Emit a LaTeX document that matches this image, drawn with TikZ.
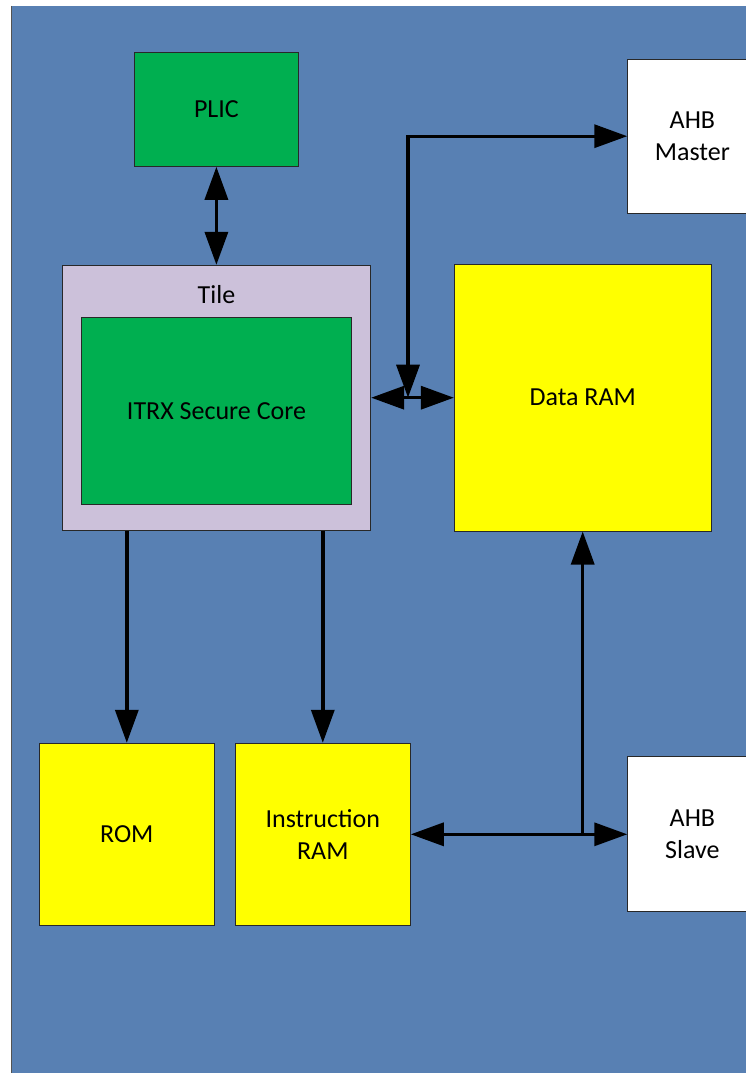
\documentclass[tikz,border=0pt]{standalone}
\usepackage{fontspec}
\setmainfont{Carlito}
\usetikzlibrary{arrows.meta}
\definecolor{bgblue}{RGB}{88,128,179}
\definecolor{tilelilac}{RGB}{204,193,218}
\definecolor{blkgreen}{RGB}{0,175,80}
\definecolor{ramyellow}{RGB}{255,255,0}
\definecolor{edgegray}{RGB}{40,40,40}
\begin{document}
\begin{tikzpicture}[x=1pt,y=-1pt,
  blk/.style={draw=edgegray, line width=1pt, inner sep=0pt, align=center,
              font=\fontsize{26}{32}\selectfont, text=black},
  conn/.style={line width=3.4pt, draw=black},
  >={Triangle[length=33pt,width=23pt]}]
\useasboundingbox (0,0) rectangle (745,1073);

% canvas
\fill[bgblue] (11,6) rectangle (770,1090);
\draw[edgegray!80, line width=1pt] (11,6) -- (11,1090);

% blocks
\node[blk, fill=blkgreen, minimum width=164.7pt, minimum height=114pt] (plic) at (216.4,109.3) {PLIC};
\node[blk, fill=tilelilac, minimum width=308.4pt, minimum height=264.7pt] (tile) at (216.5,397.7) {};
\node[font=\fontsize{26}{32}\selectfont, anchor=base, inner sep=0pt] (tilelabel) at (216.5,303) {Tile};
\node[blk, fill=blkgreen, minimum width=270.4pt, minimum height=187pt] (core) at (216.5,410.8) {ITRX Secure Core};
\node[blk, fill=white, minimum width=129.3pt, minimum height=154.3pt] (ahbm) at (692.4,136.2) {AHB\\Master};
\node[blk, fill=ramyellow, minimum width=256.7pt, minimum height=267pt] (dram) at (582.7,397.5) {Data RAM};
\node[blk, fill=ramyellow, minimum width=175pt, minimum height=182pt] (rom) at (126.8,834.3) {ROM};
\node[blk, fill=ramyellow, minimum width=175pt, minimum height=182pt] (iram) at (322.8,834.3) {Instruction\\RAM};
\node[blk, fill=white, minimum width=129.3pt, minimum height=155pt] (ahbs) at (692.4,834.2) {AHB\\Slave};

% junctions
\coordinate (jm) at (408,397.7);
\coordinate (js) at (dram.south |- iram.east);

% connectors
\draw[conn,<->] (plic.south) -- (plic.south |- tile.north);
\draw[conn,<->] (tile.east) -- (tile.east -| dram.west);
\draw[conn,<->] (jm) |- (ahbm.west);
\draw[conn,->] (rom.north |- tile.south) -- (rom.north);
\draw[conn,->] (iram.north |- tile.south) -- (iram.north);
\draw[conn,<->] (iram.east) -- (iram.east -| ahbs.west);
\draw[conn,->] ([yshift=1.7pt]js) -- (dram.south);
\end{tikzpicture}
\end{document}
